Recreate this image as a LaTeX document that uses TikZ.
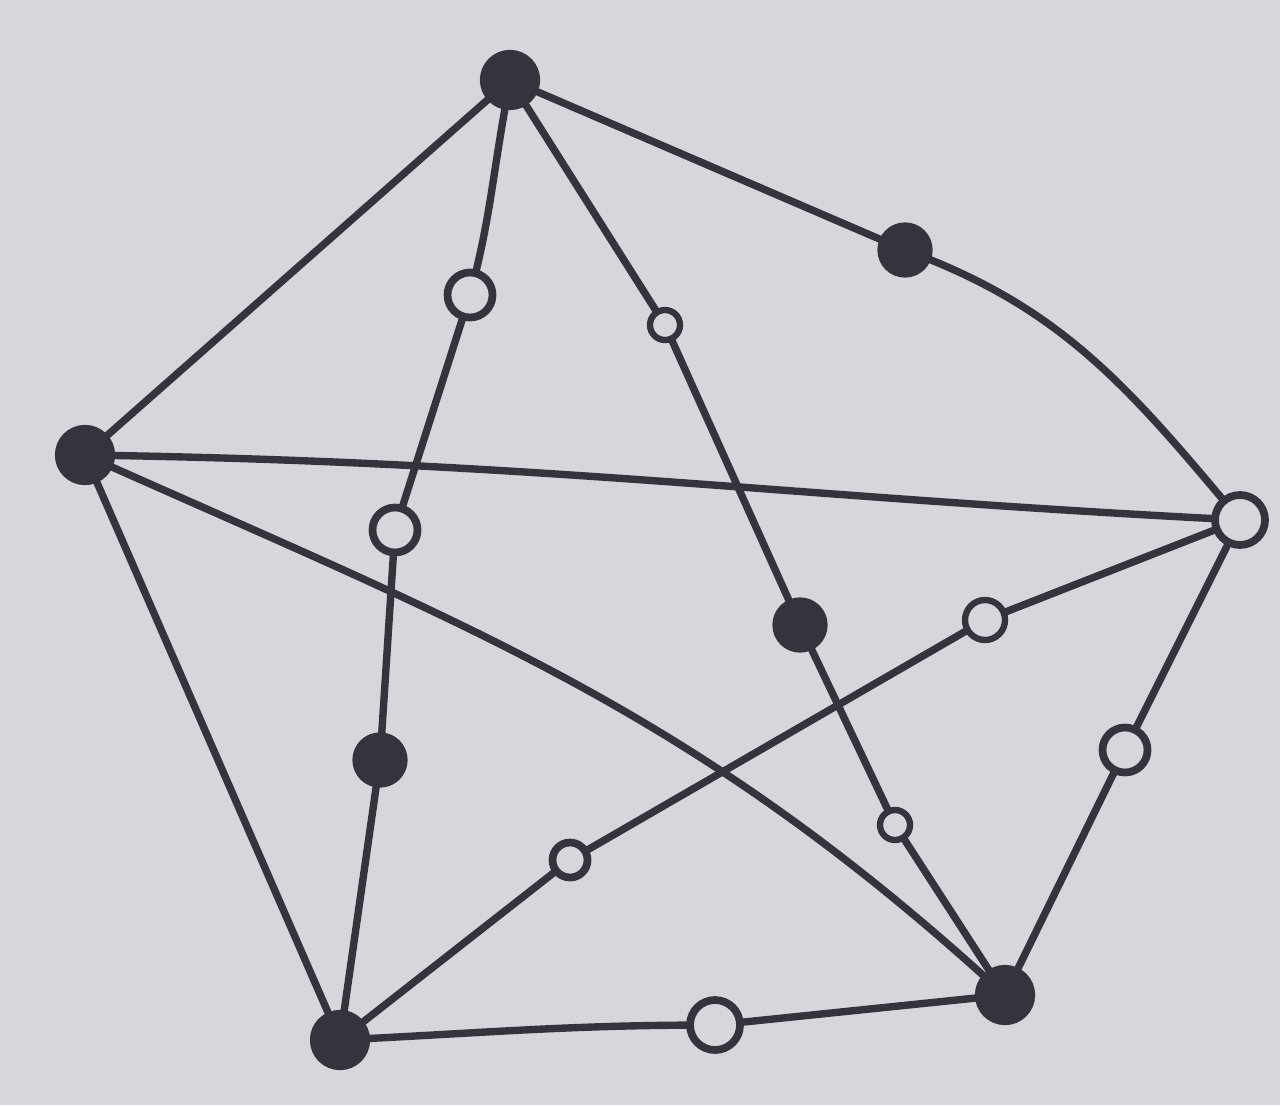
\documentclass[tikz,border=0pt]{standalone}
\usepackage{color}
\definecolor{paper}{RGB}{214,214,220}
\definecolor{pencil}{RGB}{52,52,60}

\begin{document}
\begin{tikzpicture}[edge/.style={draw=pencil, line width=2.1pt, line cap=round},
  full/.style={circle, fill=pencil, draw=pencil, line width=1.5pt, inner sep=0pt, minimum size=0.55cm},
  hollow/.style={circle, fill=paper, draw=pencil, line width=2.2pt, inner sep=0pt, minimum size=0.45cm},
  tick/.style={circle, fill=paper, draw=pencil, line width=1.8pt, inner sep=0pt, minimum size=0.3cm}]
%%%%%%%%%%%%%%%%%%%
\fill[paper] (0,0) rectangle (12.8,11.05);
\useasboundingbox (0,0) rectangle (12.8,11.05);

%%%%%%%%%%%%%%%%%%%
\node[full] (top) at (5.10,10.25) {};
\node[full] (left) at (0.85,6.50) {};
\node[hollow, minimum size=0.5cm] (right) at (12.40,5.85) {};
\node[full] (bl) at (3.40,0.65) {};
\node[full] (br) at (10.05,1.10) {};

%%%%%%%%%%%%%%%%%%%
\coordinate (s1) at (9.05,8.55);
\coordinate (s2) at (4.70,8.10);
\coordinate (s3) at (3.95,5.75);
\coordinate (s4) at (3.80,3.45);
\coordinate (s5) at (6.65,7.80);
\coordinate (s6) at (8.00,4.80);
\coordinate (s7) at (8.95,2.80);
\coordinate (s8) at (9.85,4.85);
\coordinate (s9) at (5.70,2.45);
\coordinate (s10) at (11.25,3.55);
\coordinate (s11) at (7.15,0.80);

%%%%%%%%%%%%%%%%%%%
\draw[edge] (top) -- (left);
\draw[edge] (top) -- (s1) to[out=-20,in=130] (right);
\draw[edge] (top) to[out=-100,in=75] (s2) -- (s3) -- (s4) -- (bl);
\draw[edge] (top) -- (s5) -- (s6) -- (s7) -- (br);
\draw[edge] (left) to[out=-1,in=177] (right);
\draw[edge] (left) -- (bl);
\draw[edge] (left) to[out=-24,in=138] (br);
\draw[edge] (right) -- (s8) -- (s9) -- (bl);
\draw[edge] (right) -- (s10) -- (br);
\draw[edge] (bl) to[out=3,in=180] (s11) -- (br);

%%%%%%%%%%%%%%%%%%%
\node[full, minimum size=0.5cm] (n1) at (s1) {};
\node[hollow] (n2) at (s2) {};
\node[hollow] (n3) at (s3) {};
\node[full, minimum size=0.5cm] (n4) at (s4) {};
\node[tick] (n5) at (s5) {};
\node[full, minimum size=0.5cm] (n6) at (s6) {};
\node[tick] (n7) at (s7) {};
\node[tick, minimum size=0.4cm] (n8) at (s8) {};
\node[hollow, minimum size=0.35cm] (n9) at (s9) {};
\node[hollow] (n10) at (s10) {};
\node[hollow, minimum size=0.5cm] (n11) at (s11) {};
\end{tikzpicture}
\end{document}
